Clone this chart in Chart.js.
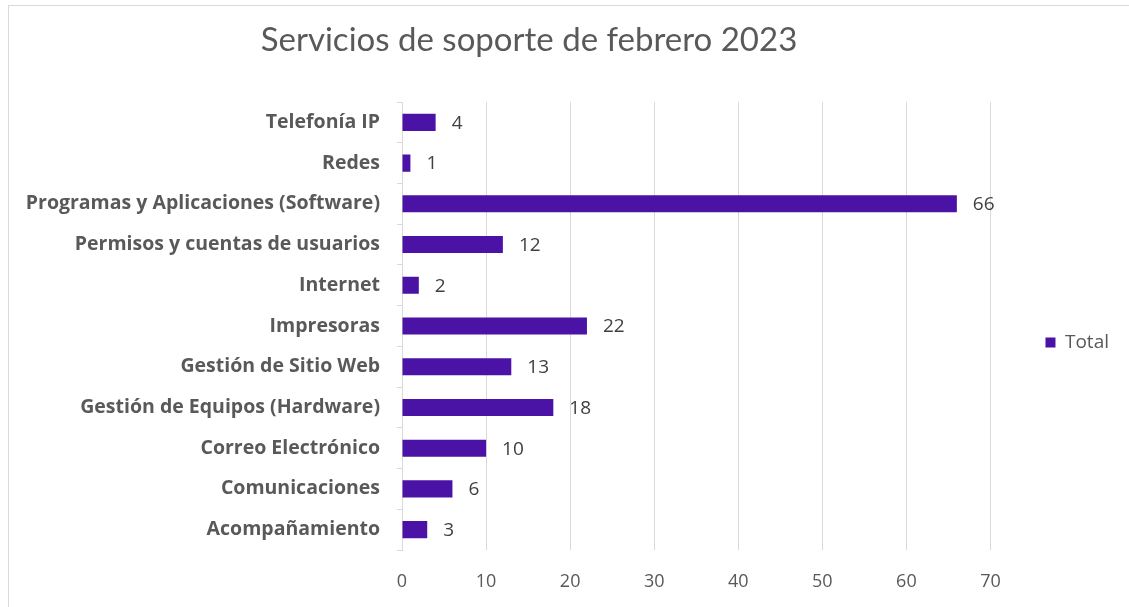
<!DOCTYPE html>
<html>
<head>
<meta charset="utf-8">
<script src="https://cdn.jsdelivr.net/npm/chart.js@4.4.0/dist/chart.umd.min.js"></script>
<style>
  html, body { margin: 0; padding: 0; background: #ffffff; }
  #wrap { position: relative; width: 1129px; height: 607px; overflow: hidden; background: #fff; }
  #frame { position: absolute; left: 8px; top: 5px; width: 1200px; height: 700px;
           border-top: 1px solid #d9d9d9; border-left: 1px solid #d9d9d9; box-sizing: border-box; }
  #title { position: absolute; left: 0; width: 1058px; top: 18px; text-align: center;
           font-family: Lato, "Open Sans", sans-serif; font-size: 33px; color: #595959; white-space: nowrap; }
  canvas { position: absolute; left: 0; top: 0; }
</style>
</head>
<body>
<div id="wrap">
  <div id="frame"></div>
  <canvas id="c" width="1129" height="607"></canvas>
  <div id="title">Servicios de soporte de febrero 2023</div>
</div>
<script>
const categories = [
  "Telefonía IP",
  "Redes",
  "Programas y Aplicaciones (Software)",
  "Permisos y cuentas de usuarios",
  "Internet",
  "Impresoras",
  "Gestión de Sitio Web",
  "Gestión de Equipos (Hardware)",
  "Correo Electrónico",
  "Comunicaciones",
  "Acompañamiento"
];
const totalValues = [4, 1, 66, 12, 2, 22, 13, 18, 10, 6, 3];
const seriesName = "Total";
const xTicks = [0, 10, 20, 30, 40, 50, 60, 70];

const FONT = '"Open Sans", Lato, sans-serif';
const BAR = '#4b12a6';

const dataLabels = {
  id: 'dataLabels',
  afterDatasetsDraw(chart) {
    const ctx = chart.ctx;
    const meta = chart.getDatasetMeta(0);
    ctx.save();
    ctx.font = '19px ' + FONT;
    ctx.fillStyle = '#404040';
    ctx.textAlign = 'left';
    ctx.textBaseline = 'middle';
    meta.data.forEach((el, i) => {
      ctx.fillText(String(chart.data.datasets[0].data[i]), el.x + 16, el.y + 1);
    });
    ctx.restore();
  }
};

const legendShift = {
  id: 'legendShift',
  afterLayout(chart) {
    if (chart.legend) {
      chart.legend.top -= 12;
      chart.legend.bottom -= 12;
    }
  }
};

new Chart(document.getElementById('c'), {
  type: 'bar',
  data: {
    labels: categories,
    datasets: [{
      label: seriesName,
      data: totalValues,
      backgroundColor: BAR,
      borderWidth: 0,
      barPercentage: 0.42,
      categoryPercentage: 1.0
    }]
  },
  options: {
    indexAxis: 'y',
    responsive: false,
    animation: false,
    devicePixelRatio: 1,
    layout: { padding: { top: 102, right: 10, left: 0, bottom: 0 } },
    plugins: {
      title: { display: false },
      tooltip: { enabled: false },
      legend: {
        position: 'right',
        labels: {
          boxWidth: 10,
          boxHeight: 10,
          padding: 55,
          color: '#595959',
          font: { family: FONT, size: 19 }
        }
      }
    },
    scales: {
      x: {
        min: 0,
        max: 70,
        afterBuildTicks(scale) { scale.ticks = xTicks.map(v => ({ value: v })); },
        afterFit(scale) { scale.height = 57; },
        grid: { color: '#d9d9d9', lineWidth: 1, drawTicks: false },
        border: { display: false },
        ticks: {
          padding: 21,
          color: '#595959',
          font: { family: FONT, size: 18 }
        }
      },
      y: {
        afterFit(scale) { scale.width = 402; },
        grid: { drawOnChartArea: false, drawTicks: true, tickLength: 5, color: '#d9d9d9', offset: true },
        border: { display: true, color: '#d9d9d9' },
        ticks: {
          padding: 17,
          color: '#595959',
          font: { family: FONT, size: 19.5, weight: 'bold' }
        }
      }
    }
  },
  plugins: [dataLabels, legendShift]
});
</script>
</body>
</html>
